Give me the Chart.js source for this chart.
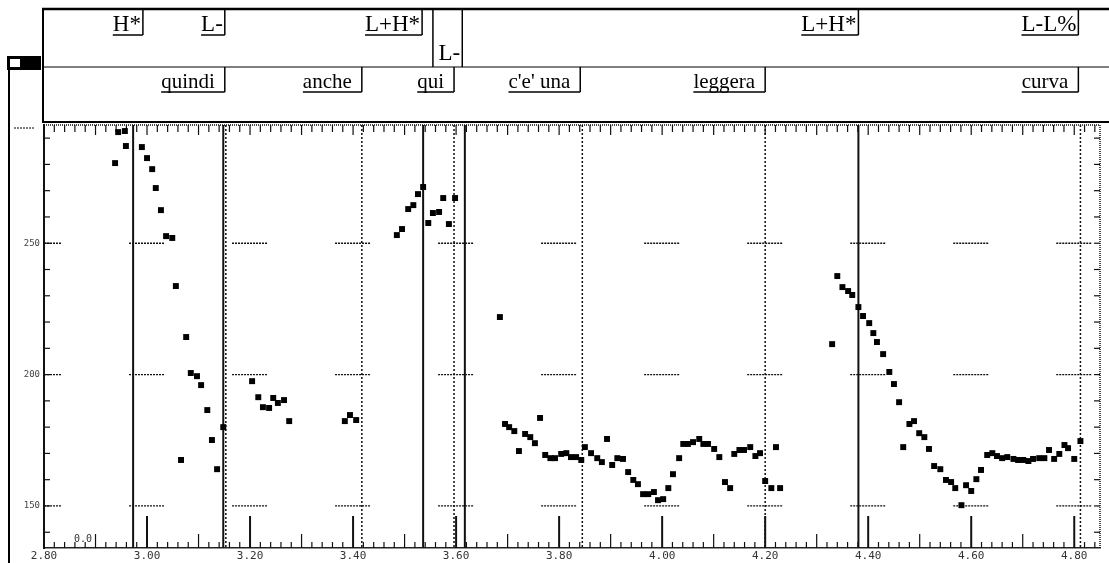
<!DOCTYPE html>
<html>
<head>
<meta charset="utf-8">
<script src="https://cdn.jsdelivr.net/npm/chart.js@4"></script>
<style>
  html, body { margin: 0; padding: 0; background: #fff; }
  #wrap { position: relative; width: 1109px; height: 563px; }
</style>
</head>
<body>
<div id="wrap"><canvas id="f0" width="1109" height="563"></canvas></div>
<script>
// pitch track (time in s, F0 in Hz)
var pitchTimes = [
  2.938, 2.944, 2.957, 2.959, 2.990, 3.000, 3.010, 3.017, 3.027, 3.037, 3.049, 3.056, 3.066, 3.076, 3.085, 3.097, 3.105, 3.117, 3.126, 3.136, 3.148,
  3.204, 3.216, 3.225, 3.237, 3.245, 3.254, 3.266, 3.276, 3.384, 3.394, 3.406,
  3.485, 3.495, 3.507, 3.517, 3.526, 3.536, 3.546, 3.555, 3.567, 3.575, 3.586, 3.598,
  3.685, 3.695, 3.703, 3.713, 3.722, 3.734, 3.744, 3.753, 3.763, 3.773, 3.783, 3.792, 3.804, 3.814, 3.823, 3.833, 3.843, 3.850, 3.862, 3.874,
  3.883, 3.893, 3.903, 3.913, 3.924, 3.934, 3.944, 3.953, 3.963, 3.973, 3.984, 3.992, 4.002, 4.012, 4.021, 4.033, 4.041, 4.050, 4.060, 4.072,
  4.080, 4.089, 4.101, 4.111, 4.122, 4.132, 4.140, 4.150, 4.159, 4.171, 4.181, 4.190, 4.200, 4.212, 4.221, 4.229,
  4.330, 4.340, 4.350, 4.361, 4.369, 4.381, 4.390, 4.402, 4.410, 4.417, 4.429, 4.441, 4.450, 4.460, 4.468, 4.480, 4.489, 4.499, 4.509, 4.518,
  4.528, 4.540, 4.551, 4.561, 4.569, 4.581, 4.590, 4.600, 4.610, 4.619, 4.631, 4.641, 4.650, 4.660, 4.670, 4.682, 4.691, 4.701, 4.711, 4.720,
  4.732, 4.742, 4.751, 4.761, 4.771, 4.781, 4.788, 4.800, 4.812
];
var pitchHz = [
  280.5, 292.3, 292.7, 287.0, 286.6, 282.4, 278.2, 271.0, 262.6, 252.7, 252.0, 233.7, 167.5, 214.3, 200.6, 199.4, 196.0, 186.5, 175.1, 164.0, 180.0,
  197.5, 191.4, 187.6, 187.3, 191.1, 189.2, 190.3, 182.3, 182.3, 184.6, 182.7,
  253.1, 255.4, 263.0, 264.5, 268.7, 271.4, 257.7, 261.5, 261.9, 267.2, 257.3, 267.2,
  221.9, 181.2, 180.0, 178.5, 170.9, 177.4, 176.2, 173.9, 183.5, 169.4, 168.2, 168.2, 169.8, 170.1, 168.6, 168.6, 167.5, 172.4, 170.1, 168.2,
  166.7, 175.5, 165.6, 168.2, 167.9, 162.9, 159.9, 158.3, 154.5, 154.5, 155.3, 152.2, 152.6, 156.8, 162.1, 168.2, 173.6, 173.6, 174.3, 175.5,
  173.6, 173.6, 171.7, 168.6, 159.1, 156.8, 169.8, 171.3, 171.3, 172.4, 169.0, 170.1, 159.5, 156.8, 172.4, 156.8,
  211.6, 237.5, 233.3, 231.8, 230.3, 225.7, 222.3, 219.6, 215.8, 212.4, 207.8, 201.0, 196.4, 189.5, 172.4, 181.2, 182.3, 177.7, 176.2, 171.7,
  165.2, 164.0, 159.9, 159.1, 156.8, 150.3, 157.9, 155.7, 160.2, 163.7, 169.4, 170.1, 169.0, 168.2, 168.6, 167.9, 167.5, 167.5, 167.1, 167.9,
  168.2, 168.2, 171.3, 167.9, 169.8, 173.2, 172.0, 167.9, 174.7
];

// annotation tiers (label, right boundary time)
var toneLabels = ['H*', 'L-', 'L+H*', 'L-', 'L+H*', 'L-L%'];
var toneTimes = [2.992, 3.151, 3.534, 3.612, 4.381, 4.808];
var wordLabels = ['quindi', 'anche', 'qui', "c'e' una", 'leggera', 'curva'];
var wordTimes = [3.151, 3.417, 3.596, 3.841, 4.200, 4.808];

// boundary lines in the plot
var solidLines = [2.973, 3.148, 3.536, 3.617, 4.381];
var dottedLines = [3.153, 3.417, 3.596, 3.845, 4.200, 4.812];

var xTickValues = [2.80, 3.00, 3.20, 3.40, 3.60, 3.80, 4.00, 4.20, 4.40, 4.60, 4.80];
var yTickValues = [150, 200, 250];

var points = pitchTimes.map(function (t, i) { return { x: t, y: pitchHz[i] }; });

function seg(ctx, x1, y1, x2, y2) {
  ctx.beginPath(); ctx.moveTo(x1, y1); ctx.lineTo(x2, y2); ctx.stroke();
}

var praatDecor = {
  id: 'praatDecor',
  beforeDatasetsDraw: function (chart) {
    var ctx = chart.ctx, a = chart.chartArea, x = chart.scales.x, y = chart.scales.y;
    ctx.save();
    ctx.strokeStyle = '#111';

    // short dashed markers at each labelled time / frequency
    ctx.lineWidth = 1.3;
    ctx.setLineDash([2, 1]);
    xTickValues.forEach(function (t) {
      var px = x.getPixelForValue(t);
      yTickValues.forEach(function (v) {
        var py = y.getPixelForValue(v);
        seg(ctx, Math.max(a.left, px - 18), py, Math.min(a.right, px + 18), py);
      });
    });

    // tick rows along top and bottom
    ctx.setLineDash([]);
    for (var k = 0; k <= 103; k++) {
      var t = 2.80 + k * 0.02;
      var px = x.getPixelForValue(t);
      if (px > a.right) break;
      ctx.lineWidth = 1.2;
      seg(ctx, px, a.top, px, a.top + (k % 5 === 0 ? 10 : 7));
      var len = 6;
      if (k % 10 === 0) { len = 32; ctx.lineWidth = 2; }
      else if (k % 5 === 0) { len = 14; }
      seg(ctx, px, a.bottom, px, a.bottom - len);
    }
    // y ticks on left and right edges
    ctx.lineWidth = 1.2;
    for (var v = 140; v <= 290; v += 10) {
      var py = y.getPixelForValue(v);
      seg(ctx, a.left, py, a.left + 6, py);
      seg(ctx, a.right, py, a.right - 6, py);
    }

    // segment boundaries
    ctx.lineWidth = 2;
    solidLines.forEach(function (t) {
      var px = x.getPixelForValue(t);
      seg(ctx, px, a.top, px, a.bottom);
    });
    ctx.lineWidth = 1.5;
    ctx.setLineDash([2, 2]);
    dottedLines.forEach(function (t) {
      var px = x.getPixelForValue(t);
      seg(ctx, px, a.top, px, a.bottom);
    });
    ctx.setLineDash([1, 1]);
    seg(ctx, a.right, a.top, a.right, a.bottom);
    seg(ctx, a.left, a.top, a.right, a.top);
    ctx.restore();
  },
  afterDraw: function (chart) {
    var ctx = chart.ctx, x = chart.scales.x, a = chart.chartArea;
    ctx.save();
    ctx.strokeStyle = '#000';
    ctx.fillStyle = '#000';

    // tier box
    ctx.lineWidth = 2.5; seg(ctx, 42, 9, 1109, 9);
    ctx.lineWidth = 2; seg(ctx, 43, 9, 43, 122); seg(ctx, 42, 122, 1109, 122);
    ctx.lineWidth = 1.2; seg(ctx, 43, 67, 1109, 67);
    ctx.lineWidth = 1.5; seg(ctx, x.getPixelForValue(3.555), 9, x.getPixelForValue(3.555), 67);

    ctx.textAlign = 'right';
    ctx.textBaseline = 'alphabetic';
    ctx.font = '23px "Liberation Serif"';
    toneLabels.forEach(function (lab, i) {
      var px = x.getPixelForValue(toneTimes[i]);
      var w = ctx.measureText(lab).width;
      ctx.lineWidth = 1.5;
      if (i === 3) {
        ctx.fillText(lab, px - 2, 60);
        seg(ctx, px, 9, px, 67);
      } else {
        ctx.fillText(lab, px - 2, 31);
        seg(ctx, px - 2 - w, 35, px, 35);
        seg(ctx, px, 9, px, 35);
      }
    });
    ctx.font = '21px "Liberation Serif"';
    wordLabels.forEach(function (lab, i) {
      var px = x.getPixelForValue(wordTimes[i]);
      var w = ctx.measureText(lab).width;
      ctx.lineWidth = 1.5;
      ctx.fillText(lab, px - 10, 88);
      seg(ctx, px - 10 - w, 92, px, 92);
      seg(ctx, px, 67, px, 92);
    });

    // left window border and small icon
    ctx.lineWidth = 2; seg(ctx, 9, 56, 9, 563);
    ctx.fillRect(7, 56, 34, 14);
    ctx.fillStyle = '#fff'; ctx.fillRect(10, 59, 10, 8); ctx.fillStyle = '#000';
    ctx.lineWidth = 1; ctx.setLineDash([2, 1]); seg(ctx, 14, 128, 34, 128); ctx.setLineDash([]);

    ctx.font = '10px "DejaVu Sans Mono"';
    ctx.textAlign = 'left';
    ctx.fillStyle = '#333';
    ctx.fillText('0.0', 74, a.bottom - 6);
    ctx.restore();
  }
};

new Chart(document.getElementById('f0'), {
  type: 'scatter',
  data: {
    datasets: [{
      data: points,
      backgroundColor: '#000',
      borderWidth: 0,
      pointStyle: 'rect',
      pointRadius: 4.2,
      pointHoverRadius: 4.2
    }]
  },
  options: {
    responsive: false,
    animation: false,
    events: [],
    layout: { padding: { top: 125, right: 9, left: 0, bottom: 0 } },
    plugins: { legend: { display: false }, tooltip: { enabled: false } },
    scales: {
      x: {
        type: 'linear',
        min: 2.80,
        max: 4.85,
        afterFit: function (s) { s.height = 15; },
        afterBuildTicks: function (s) { s.ticks = xTickValues.map(function (v) { return { value: v }; }); },
        grid: { display: false, drawTicks: false },
        border: { display: true, color: '#222', width: 1.5 },
        ticks: {
          padding: 2,
          autoSkip: false,
          maxRotation: 0,
          color: '#333',
          font: { family: 'DejaVu Sans Mono', size: 11 },
          callback: function (v) { return Number(v).toFixed(2); }
        }
      },
      y: {
        type: 'linear',
        min: 134,
        max: 295,
        afterFit: function (s) { s.width = 44; },
        afterBuildTicks: function (s) { s.ticks = yTickValues.map(function (v) { return { value: v }; }); },
        grid: { display: false, drawTicks: false },
        border: { display: true, color: '#111', width: 2 },
        ticks: {
          padding: 4,
          color: '#444',
          font: { family: 'DejaVu Sans Mono', size: 9 }
        }
      }
    }
  },
  plugins: [praatDecor]
});
</script>
</body>
</html>
